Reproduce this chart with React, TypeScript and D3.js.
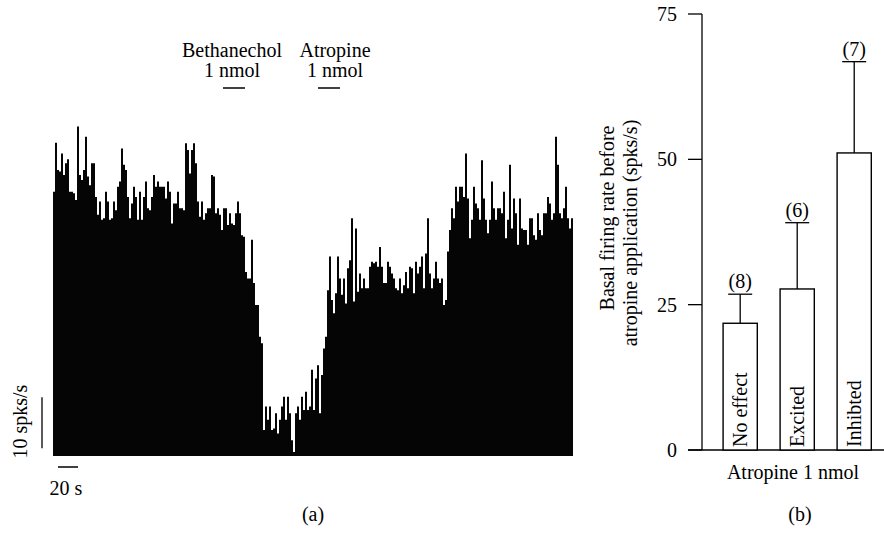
import React from 'react';
import * as d3 from 'd3';

// (a) firing rate histogram, 2 s bins, spks/s
const binSeconds = 2;
const controlRates = [
  51.8, 61.4, 56.1, 55.8, 59.3, 55.1, 57.4, 58.2, 51.8, 51.8,
  51.5, 50.2, 64.6, 55.1, 54.1, 56.1, 62.6, 54.8, 53.1, 57.4,
  57.4, 50.8, 47.3, 49.9, 46.3, 46.6, 51.8, 49.9, 46.3, 46.6,
  49.9, 48.2, 52.8, 53.8, 60.3, 57.1, 56.1, 50.8, 46.6, 49.5,
  52.8, 50.8, 46.3, 51.8, 46.3, 50.8, 53.8, 48.6, 48.2, 50.8,
  55.1,
];
const bethanecholRates = [
  52.8, 53.8, 52.8, 52.8, 52.8, 50.5, 53.8, 51.8, 45.6, 49.5,
  49.5, 51.8, 48.6, 48.6, 48.2, 61.3, 60.0, 55.4, 60.0, 61.3,
  57.4, 49.9, 46.9, 49.9, 46.3, 47.6, 48.6, 48.6, 55.1, 54.8,
  47.6, 48.6, 47.3, 44.3, 48.6, 48.6, 45.3, 47.6, 45.6, 45.3,
  47.6, 49.9, 47.6, 43.3, 43.0, 36.1, 34.8, 34.8, 42.4, 33.9,
  29.6,
];
const suppressedRates = [
  29.6, 23.4, 22.1, 5.1, 9.7, 7.1, 9.7, 5.1, 5.4, 8.4,
  4.4, 7.1, 9.7, 11.6, 7.1, 11.6, 8.4, 3.1, 0.8, 8.4,
  9.7, 7.1, 11.6, 9.0, 12.6, 9.0, 9.7, 16.9, 9.0, 15.2,
  17.8, 8.4, 15.9, 21.1, 23.4, 32.5, 39.1, 30.6, 28.0, 31.9,
  39.1, 34.8, 31.6, 34.8, 29.9, 36.8, 38.4, 46.6, 30.3, 44.6,
  32.2,
];
const atropineRates = [
  35.8, 32.9, 34.8, 32.9, 32.9, 37.1, 38.1, 37.8, 38.1, 37.1,
  41.0, 37.1, 33.9, 33.9, 38.1, 37.1, 35.8, 34.8, 32.9, 32.5,
  34.8, 31.9, 33.5, 36.1, 32.9, 37.1, 36.8, 31.9, 38.1, 35.8,
  37.1, 39.1, 32.9, 39.7, 46.6, 35.8, 32.9, 34.8, 38.1, 34.8,
  33.9, 34.8, 29.6, 30.6, 40.1, 44.3, 48.6, 46.6, 52.8, 49.9,
  52.8,
];
const recoveryRates = [
  52.8, 50.8, 59.3, 50.5, 42.7, 46.3, 52.8, 49.5, 48.6, 46.3,
  58.0, 50.5, 46.3, 43.7, 46.3, 53.8, 48.6, 46.3, 48.6, 48.6,
  47.6, 51.8, 42.7, 46.3, 57.1, 44.6, 50.5, 47.6, 41.4, 50.5,
  44.6, 44.3, 44.3, 41.4, 46.6, 46.6, 43.3, 42.4, 47.6, 44.3,
  43.3, 47.6, 47.6, 50.8, 49.5, 46.3, 47.6, 62.6, 57.1, 47.6,
  46.6, 48.6, 52.8, 46.6, 44.6, 46.6,
];
const rates = [...controlRates, ...bethanecholRates, ...suppressedRates, ...atropineRates, ...recoveryRates];

const drugs = [
  { name: 'Bethanechol', dose: '1 nmol', start: 170, end: 192, labelAt: 179 },
  { name: 'Atropine', dose: '1 nmol', start: 265, end: 287, labelAt: 282 },
];

// (b) basal firing rate before atropine
const groups = ['No effect', 'Excited', 'Inhibted'];
const means = [21.8, 27.7, 51.1];
const errors = [5.0, 11.4, 15.7];
const counts = [8, 6, 7];
const yTicks = [0, 25, 50, 75];

const font = "'Liberation Serif', 'Times New Roman', serif";
const fs = 20;

export default function App() {
  const W = 884;
  const H = 543;

  // panel (a)
  const duration = rates.length * binSeconds;
  const x = d3.scaleLinear().domain([0, duration]).range([53, 573]);
  const y = d3.scaleLinear().domain([0, 10]).range([456, 405]);
  const pts = [...rates, rates[rates.length - 1]];
  const area = d3
    .area<number>()
    .x((_d, i) => x(i * binSeconds))
    .y0(y(0))
    .y1(d => y(d))
    .curve(d3.curveStepAfter);

  // panel (b)
  const yb = d3.scaleLinear().domain([0, 75]).range([450, 14]);
  const xb = d3.scaleBand().domain(groups).range([702, 892.4]).paddingInner(0.4).paddingOuter(0.37);
  const bw = xb.bandwidth();
  const axisX = 702;

  return (
    <svg
      width={W}
      height={H}
      style={{ position: 'absolute', left: 0, top: 0, background: '#fff' }}
      fontFamily={font}
      fontSize={fs}
    >
      <rect width={W} height={H} fill="#fff" />
      {/* histogram */}
      <path d={area(pts) || ''} fill="#050505" />

      {/* drug application bars */}
      {drugs.map(d => (
        <g key={d.name}>
          <text x={x(d.labelAt)} y={57} textAnchor="middle">{d.name}</text>
          <text x={x(d.labelAt)} y={77} textAnchor="middle">{d.dose}</text>
          <line x1={x(d.start)} x2={x(d.end)} y1={88} y2={88} stroke="#000" strokeWidth={1.5} />
        </g>
      ))}

      {/* scale bars */}
      <line x1={42} x2={42} y1={y(1.5)} y2={y(11.5)} stroke="#000" strokeWidth={1.3} />
      <text transform={`translate(27,${y(-0.5)}) rotate(-90)`} textAnchor="start">10 spks/s</text>
      <line x1={x(5)} x2={x(25)} y1={467} y2={467} stroke="#000" strokeWidth={1.5} />
      <text x={x(13)} y={495} textAnchor="middle">20 s</text>
      <text x={313} y={521} textAnchor="middle">(a)</text>

      {/* panel b axis */}
      <line x1={axisX} x2={axisX} y1={yb(75)} y2={yb(0)} stroke="#000" strokeWidth={1.3} />
      <line x1={axisX - 14} x2={W} y1={yb(0)} y2={yb(0)} stroke="#000" strokeWidth={1.3} />
      {yTicks.map(t => (
        <g key={t}>
          <line x1={axisX - 14} x2={axisX} y1={yb(t)} y2={yb(t)} stroke="#000" strokeWidth={1.3} />
          <text x={axisX - 25} y={yb(t)} dy="0.35em" textAnchor="end">{t}</text>
        </g>
      ))}
      <text transform="translate(614,218) rotate(-90)" textAnchor="middle">Basal firing rate before</text>
      <text transform="translate(637,233) rotate(-90)" textAnchor="middle">atropine application (spks/s)</text>

      {groups.map((g, i) => {
        const bx = xb(g) || 0;
        const cx = bx + bw / 2;
        const top = yb(means[i] + errors[i]);
        return (
          <g key={g}>
            <line x1={cx} x2={cx} y1={yb(means[i])} y2={top} stroke="#000" strokeWidth={1.3} />
            <line x1={cx - 12} x2={cx + 12} y1={top} y2={top} stroke="#000" strokeWidth={1.3} />
            <rect x={bx} y={yb(means[i])} width={bw} height={yb(0) - yb(means[i])} fill="#fff" stroke="#000" strokeWidth={1.4} />
            <text transform={`translate(${cx},${yb(0) - 3}) rotate(-90)`} dy="0.35em" textAnchor="start">{g}</text>
            <text x={cx} y={top - 6} textAnchor="middle">({counts[i]})</text>
          </g>
        );
      })}
      <text x={793} y={479} textAnchor="middle">Atropine 1 nmol</text>
      <text x={800} y={521} textAnchor="middle">(b)</text>
    </svg>
  );
}
